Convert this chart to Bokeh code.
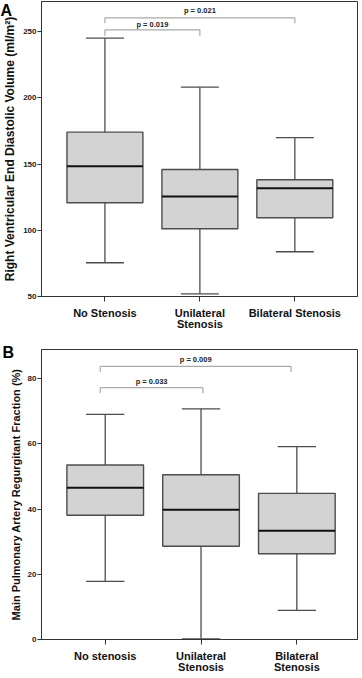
from bokeh.plotting import figure
from bokeh.layouts import column
from bokeh.models import Range1d, FixedTicker, Label, Title
from bokeh.embed import file_html
from bokeh.resources import INLINE

# ---------------- data ----------------
cats_a = ["No Stenosis", "Unilateral\nStenosis", "Bilateral Stenosis"]
lo_a = [75.5, 52.0, 83.8]
q1_a = [120.8, 101.2, 109.5]
med_a = [148.5, 125.6, 131.8]
q3_a = [174.2, 146.0, 138.2]
hi_a = [245.2, 208.2, 170.1]
yticks_a = [50, 100, 150, 200, 250]
brk_a_x0 = [1.0, 1.0]
brk_a_x1 = [2.0, 3.0]
brk_a_y = [251.5, 260.6]
brk_a_leg = [247.0, 256.5]
brk_a_lab = ["p = 0.019", "p = 0.021"]
brk_a_lab_y = [255.5, 265.9]

cats_b = ["No stenosis", "Unilateral\nStenosis", "Bilateral\nStenosis"]
lo_b = [17.8, 0.2, 8.9]
q1_b = [38.1, 28.6, 26.3]
med_b = [46.5, 39.8, 33.3]
q3_b = [53.5, 50.5, 44.8]
hi_b = [69.0, 70.7, 59.1]
yticks_b = [0, 20, 40, 60, 80]
brk_b_x0 = [0.948, 0.948]
brk_b_x1 = [2.02, 2.94]
brk_b_y = [77.2, 83.7]
brk_b_leg = [75.5, 82.0]
brk_b_lab = ["p = 0.033", "p = 0.009"]
brk_b_lab_y = [79.2, 85.7]

FONT = "Liberation Sans"
BOX_LINE = "#4d4d4d"


def panel(letter, letter_offset, letter_standoff, cats, lo, q1, med, q3, hi,
          yticks, xrange, yrange, ylabel, ylabel_size, bx0, bx1, by, bleg,
          blab, blab_y, w, fh, left_border, right_border, top_border,
          bottom_border):
    p = figure(width=w, frame_height=fh, output_backend="svg",
               toolbar_location=None, min_border_left=left_border,
               min_border_right=right_border, min_border_top=top_border,
               min_border_bottom=bottom_border,
               x_range=Range1d(*xrange), y_range=Range1d(*yrange))
    p.xgrid.visible = False
    p.ygrid.visible = False
    p.outline_line_color = "#333333"
    p.outline_line_width = 1
    p.background_fill_color = "white"
    p.border_fill_color = "white"

    xs = [i + 1 for i in range(len(cats))]
    # whiskers
    p.segment(x0=xs, y0=lo, x1=xs, y1=q1, line_color=BOX_LINE, line_width=1.3)
    p.segment(x0=xs, y0=q3, x1=xs, y1=hi, line_color=BOX_LINE, line_width=1.3)
    p.segment(x0=[x - 0.2 for x in xs], y0=lo, x1=[x + 0.2 for x in xs], y1=lo,
              line_color=BOX_LINE, line_width=1.3)
    p.segment(x0=[x - 0.2 for x in xs], y0=hi, x1=[x + 0.2 for x in xs], y1=hi,
              line_color=BOX_LINE, line_width=1.3)
    # boxes
    p.vbar(x=xs, width=0.8, bottom=q1, top=q3, fill_color="#d3d3d3",
           line_color=BOX_LINE, line_width=1.4)
    # medians
    p.segment(x0=[x - 0.4 for x in xs], y0=med, x1=[x + 0.4 for x in xs], y1=med,
              line_color="#111111", line_width=2)
    # brackets
    p.segment(x0=bx0, y0=by, x1=bx1, y1=by, line_color="#aaaaaa", line_width=1.2)
    p.segment(x0=bx0, y0=bleg, x1=bx0, y1=by, line_color="#aaaaaa", line_width=1.2)
    p.segment(x0=bx1, y0=bleg, x1=bx1, y1=by, line_color="#aaaaaa", line_width=1.2)
    for a, b, t, ty in zip(bx0, bx1, blab, blab_y):
        p.add_layout(Label(x=(a + b) / 2, y=ty, text=t, text_align="center",
                           text_baseline="middle", text_font=FONT,
                           text_font_style="bold", text_font_size="7.5px",
                           text_color="#222222"))

    # axes
    p.xaxis.ticker = FixedTicker(ticks=xs)
    p.xaxis.major_label_overrides = {x: c for x, c in zip(xs, cats)}
    p.xaxis.major_label_text_font = FONT
    p.xaxis.major_label_text_font_style = "bold"
    p.xaxis.major_label_text_font_size = "11px"
    p.xaxis.major_label_text_color = "#111111"
    p.xaxis.major_label_standoff = 5
    p.xaxis.major_label_text_line_height = 0.95
    p.xaxis.minor_tick_line_color = None
    p.xaxis.major_tick_out = 5
    p.xaxis.major_tick_in = 0
    p.xaxis.axis_line_color = "#333333"
    p.xaxis.major_tick_line_color = "#333333"

    p.yaxis.ticker = FixedTicker(ticks=yticks)
    p.yaxis.major_label_text_font = FONT
    p.yaxis.major_label_text_font_style = "bold"
    p.yaxis.major_label_text_font_size = "8px"
    p.yaxis.major_label_text_color = "#222222"
    p.yaxis.major_label_standoff = 1
    p.yaxis.minor_tick_line_color = None
    p.yaxis.major_tick_out = 4
    p.yaxis.major_tick_in = 0
    p.yaxis.axis_line_color = "#333333"
    p.yaxis.major_tick_line_color = "#333333"
    p.yaxis.axis_label = ylabel
    p.yaxis.axis_label_text_font = FONT
    p.yaxis.axis_label_text_font_style = "bold"
    p.yaxis.axis_label_text_font_size = ylabel_size
    p.yaxis.axis_label_text_color = "#111111"
    p.yaxis.axis_label_standoff = 3

    p.add_layout(Title(text=letter, align="left", offset=letter_offset,
                       standoff=letter_standoff, text_font=FONT,
                       text_font_style="bold", text_font_size="16px",
                       text_color="#000000"), "above")
    return p


pa = panel("A", -41, -34, cats_a, lo_a, q1_a, med_a, q3_a, hi_a,
           yticks_a, (0.332, 3.66), (50, 272.9),
           "Right Ventricular End Diastolic Volume (ml/m²)", "12px",
           brk_a_x0, brk_a_x1, brk_a_y, brk_a_leg, brk_a_lab, brk_a_lab_y,
           361, 295, 41, 1, 1, 33)
pb = panel("B", -39, -23, cats_b, lo_b, q1_b, med_b, q3_b, hi_b,
           yticks_b, (0.335, 3.633), (0, 88.9),
           "Main Pulmonary Artery Regurgitant Fraction (%)", "11px",
           brk_b_x0, brk_b_x1, brk_b_y, brk_b_leg, brk_b_lab, brk_b_lab_y,
           361, 290, 39, 4, 17, 31)

layout = column(pa, pb, spacing=0)
open("out.html", "w").write(file_html(layout, INLINE))
